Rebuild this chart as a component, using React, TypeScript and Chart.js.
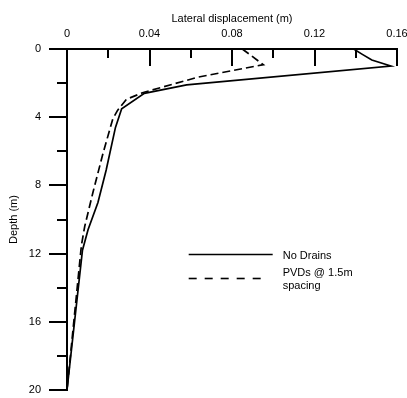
import React, { useEffect, useRef } from "react";
import { Chart, registerables } from "chart.js";

Chart.register(...registerables);

// Depth below ground (m) and lateral displacement (m) for each case
const noDrainsDepth = [0, 0.3, 0.65, 1.0, 2.1, 2.6, 3.5, 4.6, 7.1, 9.0, 10.6, 11.8, 20];
const noDrainsDisp = [0.139, 0.143, 0.1478, 0.157, 0.058, 0.0375, 0.0265, 0.0235, 0.019, 0.015, 0.0102, 0.0075, 0];

const pvdDepth = [0, 0.92, 1.65, 2.55, 2.95, 3.6, 4.1, 6.1, 8.4, 10.4, 11.5, 20];
const pvdDisp = [0.085, 0.0952, 0.0636, 0.037, 0.0288, 0.0245, 0.0222, 0.0175, 0.0126, 0.0086, 0.007, 0];

const xTicks = [0, 0.04, 0.08, 0.12, 0.16];
const yTicks = [0, 4, 8, 12, 16, 20];

const seriesNames = ["No Drains", "PVDs @ 1.5m"];
const legendLines = [["No Drains"], ["PVDs @ 1.5m", "spacing"]];

const FONT = "'Liberation Sans', Arial, Helvetica, sans-serif";

// Axis lines with inward major/minor ticks on the top axis and outward ticks on the left axis
const axisFrame = {
  id: "axisFrame",
  afterDatasetsDraw(chart: any) {
    const { ctx, chartArea } = chart;
    const xs = chart.scales.x;
    const ys = chart.scales.y;
    const top = chartArea.top;
    const left = chartArea.left;
    ctx.save();
    ctx.strokeStyle = "#000";
    ctx.lineWidth = 2;
    ctx.lineCap = "butt";
    ctx.beginPath();
    // top axis
    ctx.moveTo(left - 18, top);
    ctx.lineTo(xs.getPixelForValue(xs.max) + 1, top);
    // left axis
    ctx.moveTo(left, top);
    ctx.lineTo(left, ys.getPixelForValue(ys.max) + 1);
    ctx.stroke();

    ctx.beginPath();
    const xStep = (xTicks[1] - xTicks[0]) / 2;
    for (let i = 1; i <= Math.round(xs.max / xStep); i++) {
      const px = Math.round(xs.getPixelForValue(i * xStep));
      const len = i % 2 === 0 ? 17 : 9;
      ctx.moveTo(px, top);
      ctx.lineTo(px, top + len);
    }
    const yStep = (yTicks[1] - yTicks[0]) / 2;
    for (let i = 0; i <= Math.round(ys.max / yStep); i++) {
      const py = Math.round(ys.getPixelForValue(i * yStep));
      const len = i % 2 === 0 ? 18 : 10;
      ctx.moveTo(left, py);
      ctx.lineTo(left - len, py);
    }
    ctx.stroke();
    ctx.restore();
  },
};

// Key drawn inside the plot area
const keyBox = {
  id: "keyBox",
  afterDraw(chart: any) {
    const { ctx } = chart;
    const xs = chart.scales.x;
    const ys = chart.scales.y;
    const x0 = xs.getPixelForValue(0.059);
    const rows = [ys.getPixelForValue(12.05), ys.getPixelForValue(13.45)];
    ctx.save();
    ctx.font = `11px ${FONT}`;
    ctx.fillStyle = "#000";
    ctx.textBaseline = "middle";
    chart.data.datasets.forEach((ds: any, i: number) => {
      const y = Math.round(rows[i]) + 0.5;
      ctx.strokeStyle = "#000";
      ctx.lineWidth = 1.6;
      ctx.setLineDash(i === 0 ? [] : [8, 8]);
      ctx.beginPath();
      ctx.moveTo(x0, y);
      ctx.lineTo(x0 + (i === 0 ? 84 : 76), y);
      ctx.stroke();
      ctx.setLineDash([]);
      const lines = legendLines[i];
      const ty = i === 0 ? y + 1 : y - 5.5;
      lines.forEach((t, k) => ctx.fillText(t, x0 + 94, ty + k * 13.4));
    });
    ctx.restore();
  },
};

export default function App() {
  const ref = useRef<HTMLCanvasElement | null>(null);

  useEffect(() => {
    if (!ref.current) return;
    const toPoints = (xs: number[], ys: number[]) => xs.map((v, i) => ({ x: v, y: ys[i] }));
    const chart = new Chart(ref.current, {
      type: "scatter",
      data: {
        datasets: [
          {
            label: seriesNames[0],
            data: toPoints(noDrainsDisp, noDrainsDepth),
            showLine: true,
            borderColor: "#000",
            borderWidth: 1.7,
            pointRadius: 0,
            tension: 0,
          },
          {
            label: seriesNames[1],
            data: toPoints(pvdDisp, pvdDepth),
            showLine: true,
            borderColor: "#000",
            borderWidth: 1.7,
            borderDash: [8, 4],
            pointRadius: 0,
            tension: 0,
          },
        ],
      },
      options: {
        animation: false,
        responsive: false,
        maintainAspectRatio: false,
        layout: { padding: { top: 0, left: 0, right: 10, bottom: 8 } },
        plugins: { legend: { display: false }, tooltip: { enabled: false } },
        scales: {
          x: {
            type: "linear",
            position: "top",
            min: 0,
            max: 0.16,
            afterBuildTicks: (s: any) => {
              s.ticks = xTicks.map((v) => ({ value: v }));
            },
            afterFit: (s: any) => {
              s.height = 49;
              s.paddingLeft = 0;
              s.paddingRight = 0;
            },
            grid: { display: false, drawTicks: false },
            border: { display: false },
            ticks: {
              padding: 8,
              maxRotation: 0,
              color: "#000",
              font: { family: FONT, size: 11 },
              callback: (v: any) => String(Number(v)),
            },
            title: {
              display: true,
              text: "Lateral displacement (m)",
              color: "#000",
              font: { family: FONT, size: 11 },
              padding: { top: 12, bottom: 0 },
            },
          },
          y: {
            type: "linear",
            reverse: true,
            min: 0,
            max: 20,
            afterBuildTicks: (s: any) => {
              s.ticks = yTicks.map((v) => ({ value: v }));
            },
            afterFit: (s: any) => {
              s.width = 67;
              s.paddingTop = 0;
              s.paddingBottom = 0;
            },
            grid: { display: false, drawTicks: false },
            border: { display: false },
            ticks: {
              padding: 26,
              color: "#000",
              font: { family: FONT, size: 11 },
            },
            title: {
              display: true,
              text: "Depth (m)",
              color: "#000",
              font: { family: FONT, size: 11 },
              padding: { top: 7, bottom: 0 },
            },
          },
        },
      },
      plugins: [axisFrame, keyBox],
    });
    return () => chart.destroy();
  }, []);

  return (
    <div style={{ position: "fixed", left: 0, top: 0, width: 407, height: 398, background: "#fff" }}>
      <canvas ref={ref} width={407} height={398} style={{ display: "block" }} />
    </div>
  );
}
